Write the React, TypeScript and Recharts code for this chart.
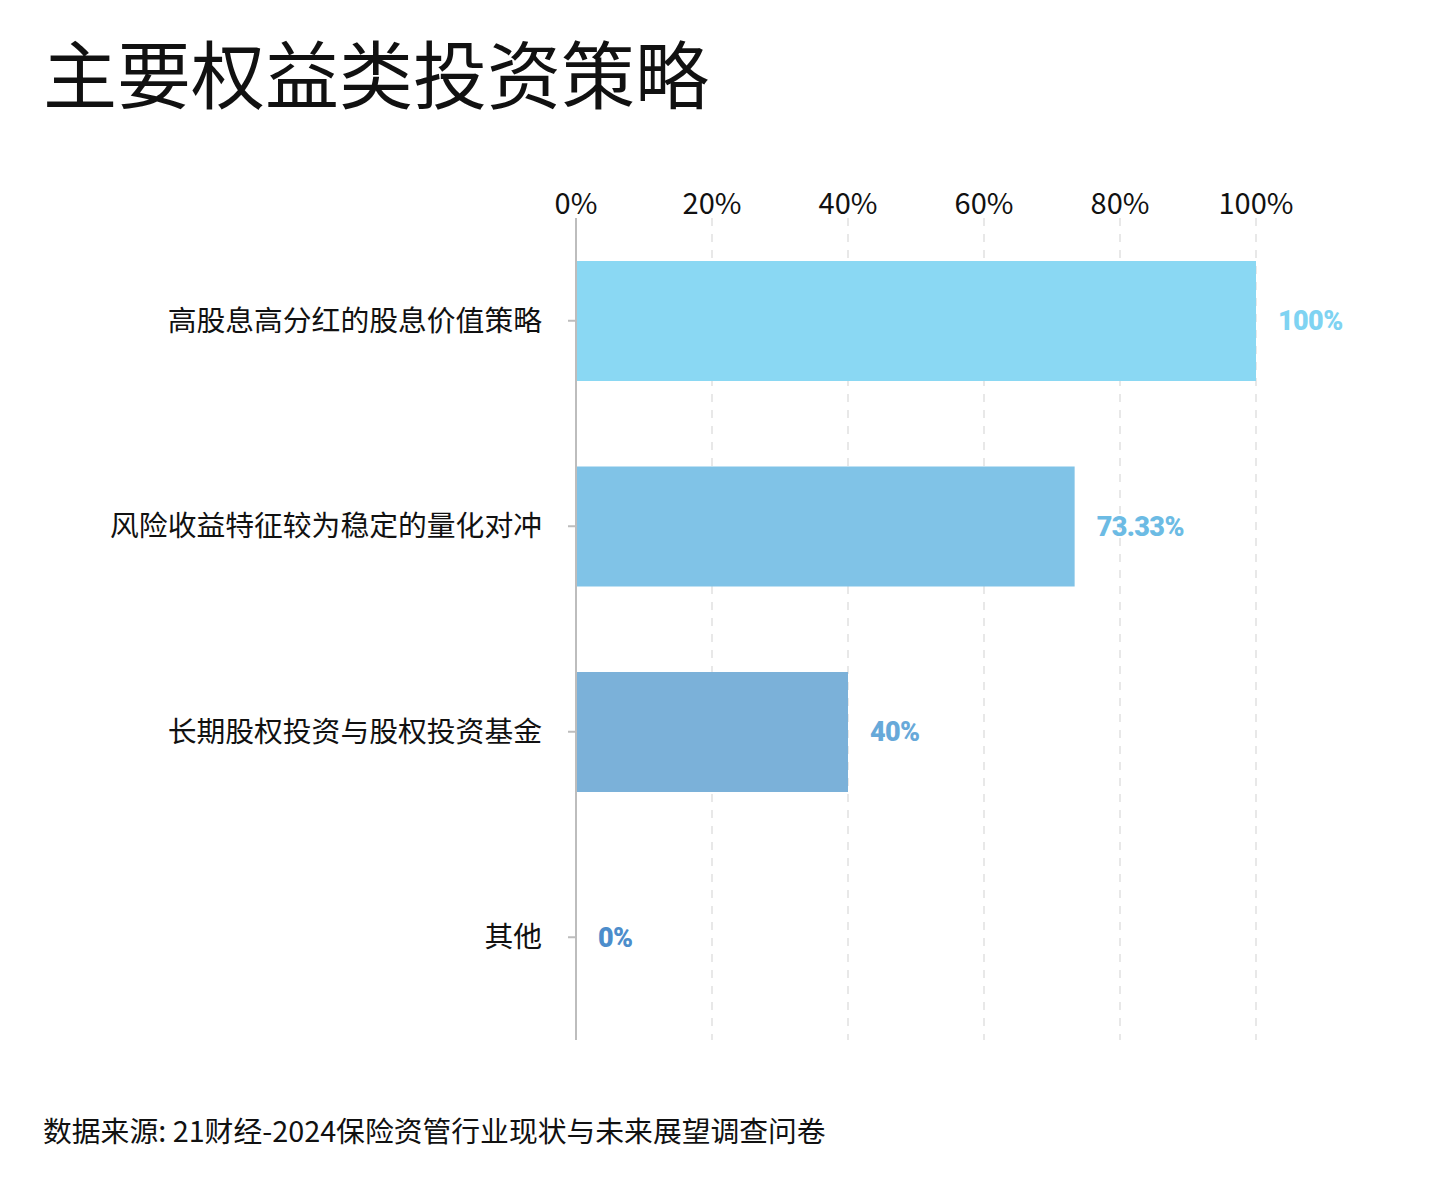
import { BarChart, Bar, XAxis, YAxis, CartesianGrid, Cell, LabelList } from "recharts";

const categories = [
  "高股息高分红的股息价值策略",
  "风险收益特征较为稳定的量化对冲",
  "长期股权投资与股权投资基金",
  "其他",
];
const shares = [100, 73.33, 40, 0];
const valueLabels = ["100%", "73.33%", "40%", "0%"];
const xTicks = [0, 20, 40, 60, 80, 100];

const barColors = ["#8AD8F3", "#80C3E7", "#7BB1D9", "transparent"];
const labelColors = ["#7FD3F2", "#6CBBE4", "#67A9D9", "#4C8DCB"];

const CJK = '"Noto Sans CJK SC", "Noto Sans", sans-serif';

const data = categories.map((name, i) => ({ name, value: shares[i], label: valueLabels[i] }));

function ValueLabel(props: any) {
  const { x, y, width, height, index } = props;
  const i = typeof index === "number" ? index : 0;
  // zero bar is drawn 1px wide so its label still shows; keep label from bar start
  const w = shares[i] === 0 ? 0 : width;
  return (
    <text
      x={x + w + 22}
      y={y + height / 2}
      dominantBaseline="central"
      fill={labelColors[i]}
      fontFamily="Roboto, sans-serif"
      fontWeight={900}
      fontSize={27}
      letterSpacing={-0.6}
    >
      {valueLabels[i]}
    </text>
  );
}

export default function App() {
  return (
    <div style={{ position: "absolute", left: 0, top: 0, width: 1440, height: 1184, background: "#fff" }}>
      <div
        style={{
          position: "absolute", left: 43, top: 34, fontFamily: CJK, fontSize: 74,
          fontWeight: 400, lineHeight: 1, color: "#111", whiteSpace: "nowrap",
        }}
      >
        主要权益类投资策略
      </div>
      <div style={{ position: "absolute", left: 0, top: 0 }}>
        <BarChart
          width={1440}
          height={1100}
          data={data}
          layout="vertical"
          margin={{ top: 188, right: 184, bottom: 60, left: 0 }}
        >
          <CartesianGrid horizontal={false} strokeDasharray="8 8" stroke="#e8e8e8" strokeWidth={2} />
          <XAxis
            type="number"
            orientation="top"
            domain={[0, 100]}
            ticks={xTicks}
            height={30}
            axisLine={false}
            tickLine={false}
            tickSize={0}
            tickMargin={4}
            tickFormatter={(v: number) => `${v}%`}
            tick={{ fill: "#111", fontSize: 29, fontFamily: CJK }}
          />
          <YAxis
            type="category"
            dataKey="name"
            width={576}
            axisLine={{ stroke: "#bdbdbd", strokeWidth: 2 }}
            tickLine={{ stroke: "#bdbdbd", strokeWidth: 2 }}
            tickSize={8}
            tickMargin={26}
            tick={{ fill: "#111", fontSize: 28.8, fontFamily: CJK }}
          />
          <Bar dataKey="value" barSize={120} minPointSize={1} isAnimationActive={false}>
            {data.map((d, i) => (
              <Cell key={d.name} fill={barColors[i]} />
            ))}
            <LabelList dataKey="label" content={<ValueLabel />} />
          </Bar>
        </BarChart>
      </div>
      <div
        style={{
          position: "absolute", left: 43, top: 1116, fontFamily: CJK, fontSize: 28.8,
          lineHeight: 1, color: "#111", whiteSpace: "nowrap",
        }}
      >
        数据来源: 21财经-2024保险资管行业现状与未来展望调查问卷
      </div>
    </div>
  );
}
